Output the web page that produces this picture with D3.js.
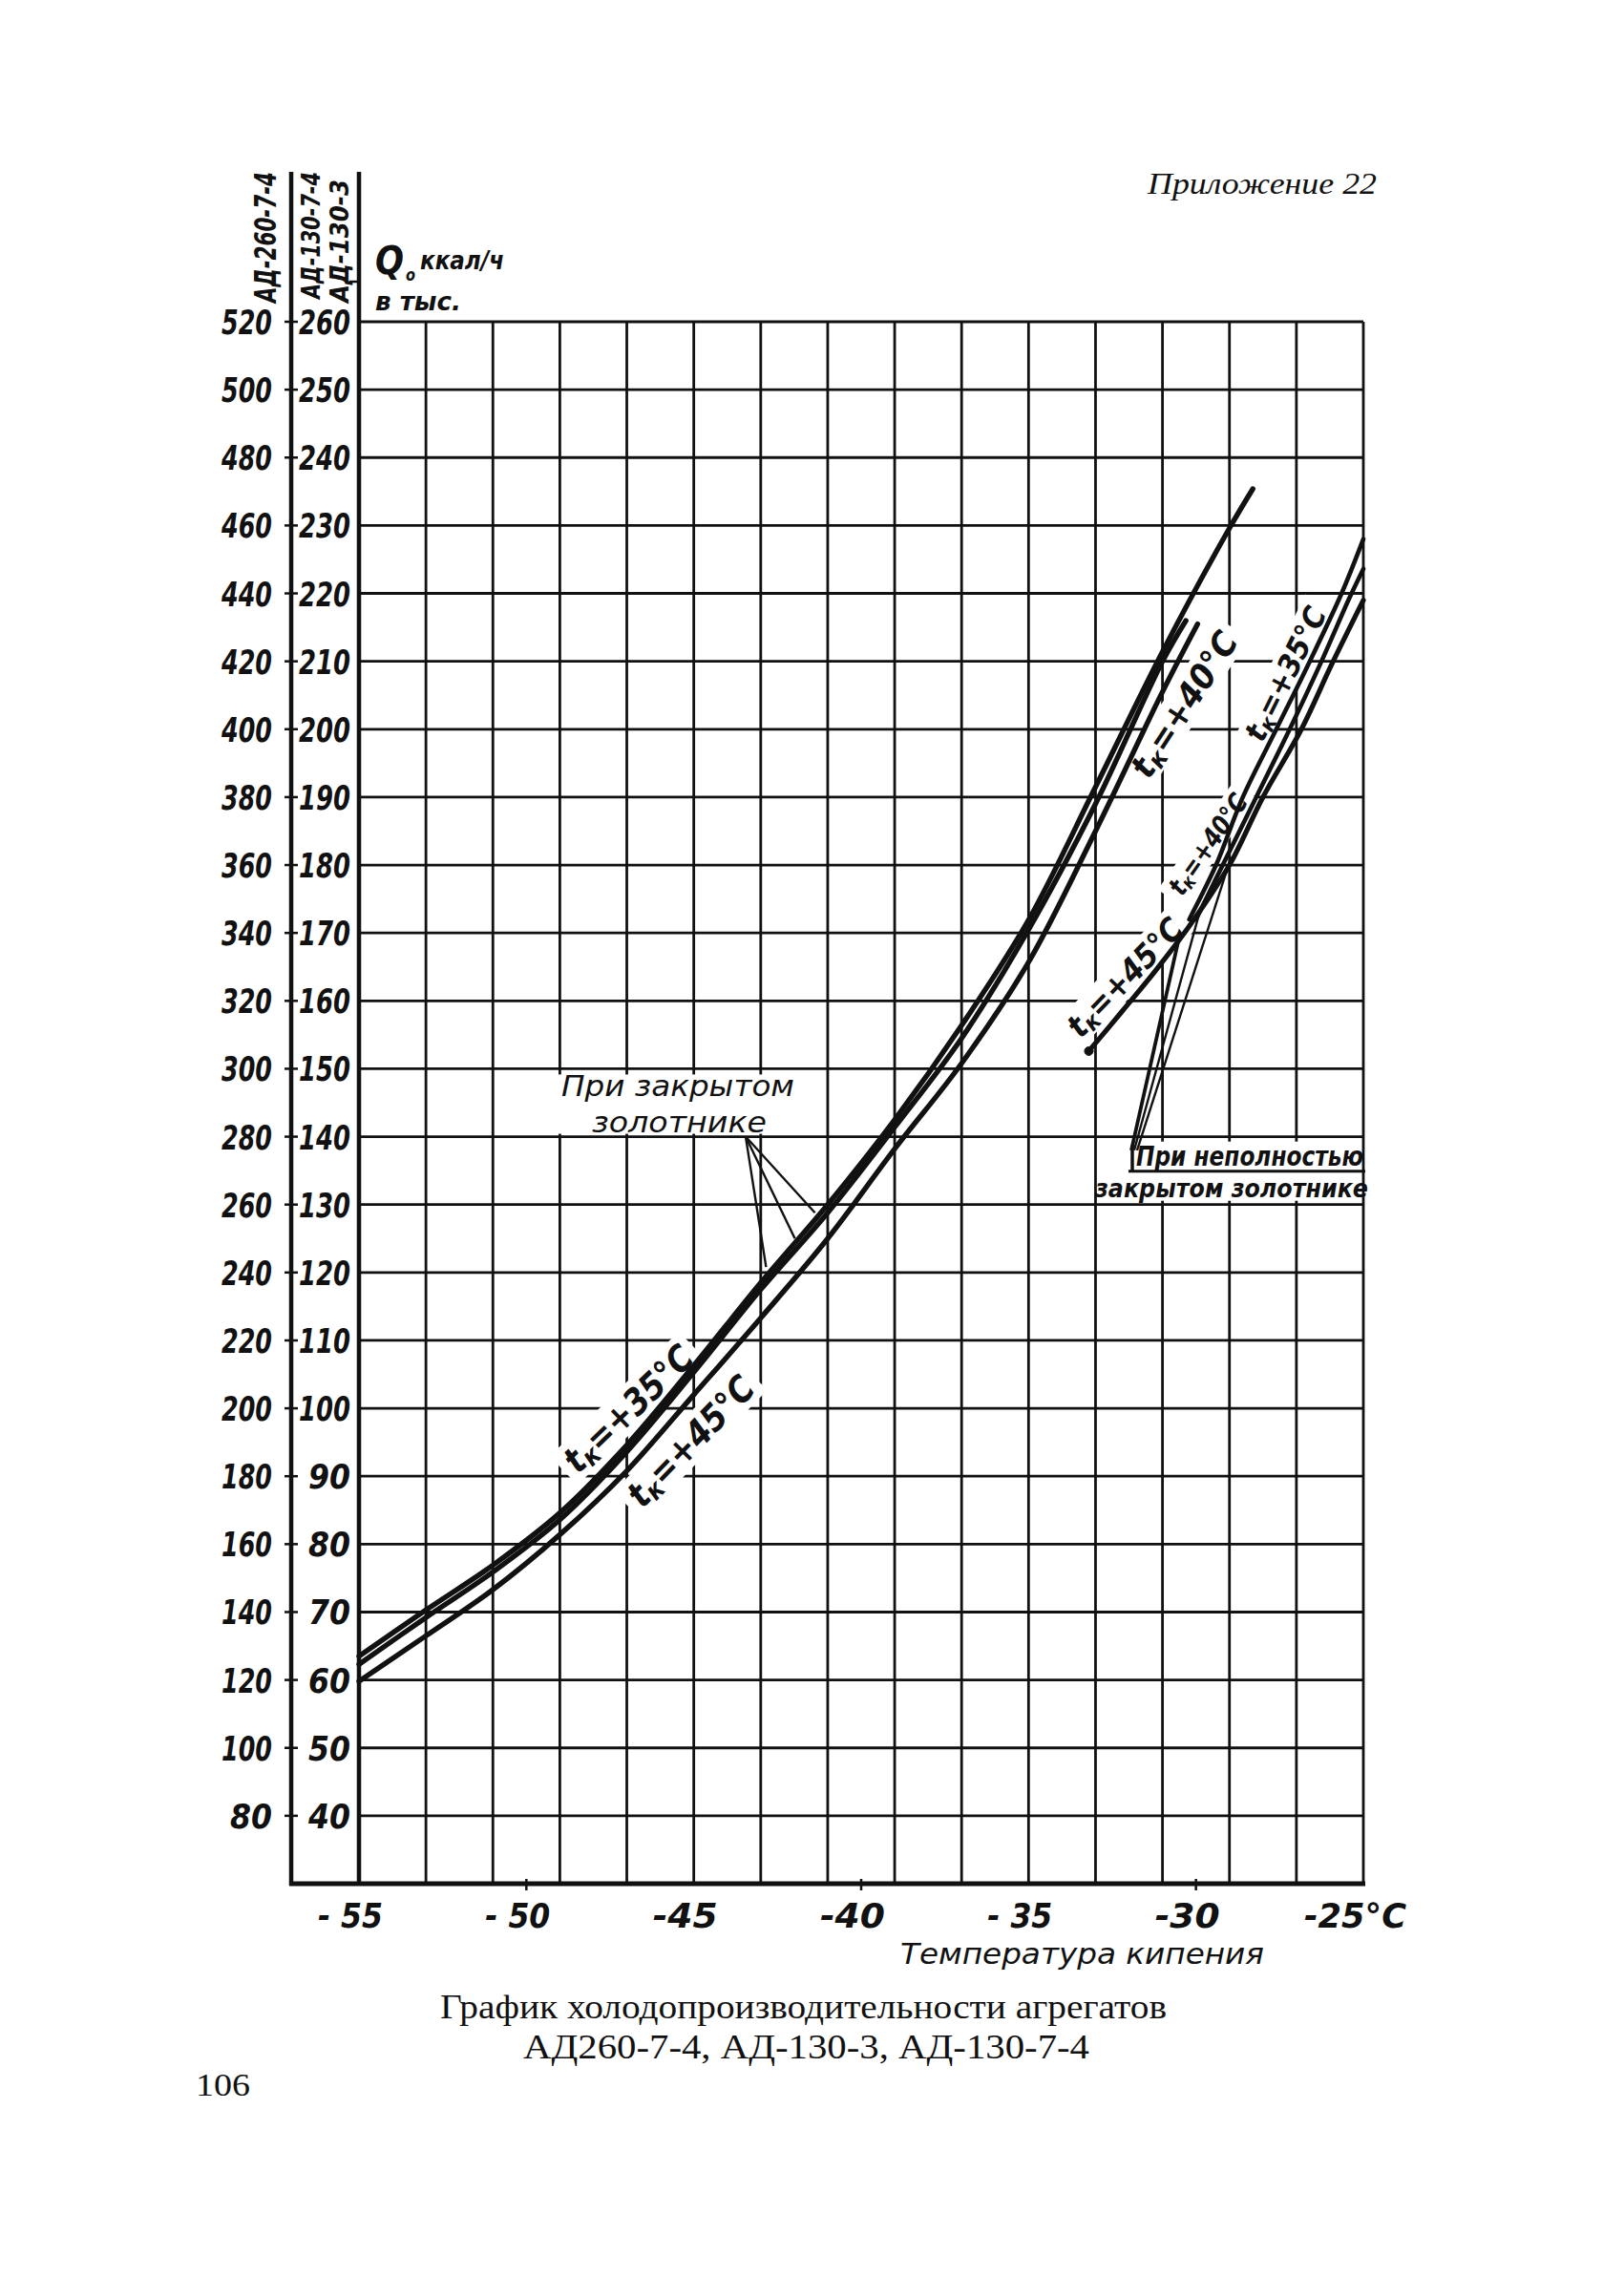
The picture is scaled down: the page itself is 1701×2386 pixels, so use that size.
<!DOCTYPE html>
<html><head><meta charset="utf-8">
<script src="https://cdn.jsdelivr.net/npm/d3@7"></script>
<style>
html,body{margin:0;padding:0;background:#fff;}
svg{display:block;}
</style></head><body>
<svg id="c" width="1701" height="2386"></svg>
<script>
// ---------------- DATA ----------------
// Boiling temperature grid (°C) and capacity grid (АД-130 scale, thousand kcal/h)
const gridTemps = [-55,-53,-51,-49,-47,-45,-43,-41,-39,-37,-35,-33,-31,-29,-27,-25];
const capGrid130 = [40,50,60,70,80,90,100,110,120,130,140,150,160,170,180,190,200,210,220,230,240,250,260];
const labels130 = ["40","50","60","70","80","90","100","110","120","130","140","150","160","170","180","190","200","210","220","230","240","250","260"];
const labels260 = ["80","100","120","140","160","180","200","220","240","260","280","300","320","340","360","380","400","420","440","460","480","500","520"];
const tempTickValues = [-55,-50,-45,-40,-35,-30,-25];
const tempTickLabels = ["- 55","- 50","-45","-40","- 35","-30","-25°C"];
const minorTempTicks = [-50,-40,-30];

// Curves with closed slide valve ("При закрытом золотнике"), [t, Q] in АД-130 units
const closed35 = [[-55,63.5],[-53,70.3],[-51,76.9],[-49,84.6],[-47,94.6],[-45,106.3],[-43,118.5],[-41,130],[-39,142.5],[-37,156.4],[-35,171.9],[-33,191.5],[-31,211.4],[-29,229.6],[-28.3,235.4]];
const closed40 = [[-55,62.3],[-53,69.2],[-51,75.9],[-49,83.6],[-47,93.6],[-45,105.3],[-43,117.5],[-41,128.8],[-39,141.4],[-37,154.5],[-35,170.5],[-33,189],[-31,210],[-30.3,216]];
const closed45 = [[-55,59.8],[-53,66.5],[-51,73.3],[-49,81.4],[-47,90.8],[-45,102],[-43,113.3],[-41,125],[-39,138.2],[-37,150.8],[-35,165.7],[-33,185],[-31,205.5],[-29.95,215.5]];

// Curves with partially closed slide valve ("При неполностью закрытом золотнике")
const part35 = [[-30.2,172],[-29.4,180],[-28.6,190],[-27.6,200],[-26.6,210],[-25.65,220],[-25.0,228]];
const part40 = [[-30.0,172],[-29.2,180],[-28.2,190],[-27.2,200],[-26.25,210],[-25.4,219.5],[-25.0,223.6]];
const part45 = [[-33.2,152.6],[-32.2,158.5],[-31.2,164.5],[-30.2,171],[-29.0,180],[-28.0,190],[-26.85,200],[-25.95,209.5],[-25.0,219]];

// Leader lines (apex -> points on curves)
const closedLeaderApex = [-43.45,140];
const closedLeaderEnds = [[-41.38,128.8],[-41.98,125.0],[-42.84,120.8]];
const partLeaderBase = [-31.93,138.0];
const partLeaderEnds = [[-30.5,169.4],[-29.85,173.8],[-28.95,181.2]];

// ---------------- LAYOUT ----------------
const W = 1701, H = 2386;
const ink = "#111";
const HAND = '"DejaVu Sans","Liberation Sans",sans-serif';
const SERIF = '"Liberation Serif","DejaVu Serif",serif';

const svg = d3.select("#c");
svg.append("rect").attr("width", W).attr("height", H).attr("fill", "#fff");

const x = d3.scaleLinear().domain([-55, -25]).range([376, 1428]);
const y = d3.scaleLinear().domain([30, 260]).range([1973, 337]);

const axisX = 305;      // outer left axis line
const headTop = 180;    // top of header columns

// ---- grid ----
const grid = svg.append("g");
grid.selectAll("line.v").data(gridTemps).join("line")
  .attr("x1", d => x(d)).attr("x2", d => x(d))
  .attr("y1", y(260)).attr("y2", y(30))
  .attr("stroke", ink).attr("stroke-width", 2.8);
grid.selectAll("line.h").data(capGrid130).join("line")
  .attr("x1", x(-55)).attr("x2", x(-25))
  .attr("y1", d => y(d)).attr("y2", d => y(d))
  .attr("stroke", ink).attr("stroke-width", 2.8);

// ---- label backgrounds (hide grid behind hand lettering) ----
const bg = svg.append("g");

const tkLabels = [
  {t:-46.96, v:100.0, ang:-44, len:172, fs:38, num:"35"},
  {t:-45.10, v:95.2,  ang:-46, len:173, fs:38, num:"45"},
  {t:-30.36, v:203.7, ang:-57, len:174, fs:36, num:"40"},
  {t:-27.34, v:208.2, ang:-63.6, len:152, fs:32, num:"35"},
  {t:-29.65, v:183.1, ang:-55, len:122, fs:28, num:"40"},
  {t:-32.13, v:163.5, ang:-46, len:158, fs:34, num:"45"}
];
tkLabels.forEach(L => {
  bg.append("rect")
    .attr("transform", `translate(${x(L.t)},${y(L.v)}) rotate(${L.ang})`)
    .attr("x", -L.len/2 - 8).attr("y", -L.fs*0.55)
    .attr("width", L.len + 16).attr("height", L.fs*1.1)
    .attr("fill", "#fff");
});
bg.append("rect").attr("x", 584).attr("y", y(150) + 6)
  .attr("width", 252).attr("height", y(140) - y(150) - 9).attr("fill", "#fff");
bg.append("rect").attr("x", 1152).attr("y", y(130) - 66)
  .attr("width", 272).attr("height", 62).attr("fill", "#fff");

// ---- axes frame ----
const frame = svg.append("g").attr("stroke", ink).attr("fill", "none");
frame.append("line").attr("x1", axisX).attr("x2", axisX).attr("y1", headTop).attr("y2", y(30) + 2).attr("stroke-width", 4.5);
frame.append("line").attr("x1", x(-55)).attr("x2", x(-55)).attr("y1", headTop).attr("y2", y(30) + 2).attr("stroke-width", 4.5);
frame.append("line").attr("x1", axisX - 2).attr("x2", x(-25) + 2).attr("y1", y(30)).attr("y2", y(30)).attr("stroke-width", 5);
frame.append("line").attr("x1", x(-55) - 10).attr("x2", x(-55)).attr("y1", 295).attr("y2", 295).attr("stroke-width", 2.5);
frame.selectAll("line.tk").data(capGrid130).join("line")
  .attr("x1", axisX - 7).attr("x2", axisX + 7)
  .attr("y1", d => y(d)).attr("y2", d => y(d)).attr("stroke-width", 2.5);
frame.selectAll("line.mt").data(minorTempTicks).join("line")
  .attr("x1", d => x(d)).attr("x2", d => x(d))
  .attr("y1", y(30) - 5).attr("y2", y(30) + 7).attr("stroke-width", 2.5);

// ---- curves ----
const line = d3.line().x(d => x(d[0])).y(d => y(d[1])).curve(d3.curveCatmullRom.alpha(0.5));
const curves = svg.append("g").attr("fill", "none").attr("stroke", ink)
  .attr("stroke-linecap", "round").attr("stroke-linejoin", "round");
[closed35, closed40, closed45].forEach(c => curves.append("path").attr("d", line(c)).attr("stroke-width", 5.4));
[part35, part40].forEach(c => curves.append("path").attr("d", line(c)).attr("stroke-width", 4.6));
curves.append("path").attr("d", line(part45)).attr("stroke-width", 5.2);
curves.append("circle").attr("cx", x(part45[0][0])).attr("cy", y(part45[0][1])).attr("r", 4.5).attr("fill", ink);

// ---- leaders ----
const lead = svg.append("g").attr("stroke", ink).attr("stroke-width", 2.4);
closedLeaderEnds.forEach(e => lead.append("line")
  .attr("x1", x(closedLeaderApex[0])).attr("y1", y(closedLeaderApex[1]))
  .attr("x2", x(e[0])).attr("y2", y(e[1])));
partLeaderEnds.forEach((e, i) => lead.append("line")
  .attr("x1", x(partLeaderBase[0]) + i*3).attr("y1", y(partLeaderBase[1]))
  .attr("x2", x(e[0])).attr("y2", y(e[1])).attr("stroke-width", i === 0 ? 3.8 : 2.4));

// ---- curve labels ----
const txt = svg.append("g").attr("fill", ink);
tkLabels.forEach(L => {
  const gg = txt.append("g").attr("transform", `translate(${x(L.t)},${y(L.v)}) rotate(${L.ang})`);
  const t = gg.append("text").attr("text-anchor", "middle").attr("y", L.fs*0.36)
    .attr("font-family", HAND).attr("font-style", "italic").attr("font-weight", "bold")
    .attr("font-size", L.fs).attr("textLength", L.len).attr("lengthAdjust", "spacingAndGlyphs");
  t.append("tspan").text("t");
  t.append("tspan").attr("font-size", L.fs*0.72).attr("dy", L.fs*0.12).text("к");
  t.append("tspan").attr("dy", -L.fs*0.12).text("=+" + L.num + "°C");
});

function handText(parent, str, px, py, fs, len, opts = {}) {
  const t = parent.append("text").attr("x", px).attr("y", py)
    .attr("font-family", opts.family || HAND).attr("font-style", opts.style || "italic")
    .attr("font-weight", opts.weight || "normal").attr("font-size", fs)
    .attr("text-anchor", opts.anchor || "start").text(str);
  if (len) t.attr("textLength", len).attr("lengthAdjust", "spacingAndGlyphs");
  return t;
}

// "При закрытом золотнике"
handText(txt, "При закрытом", 588, y(140) - 43, 31, 244);
handText(txt, "золотнике", 620, y(140) - 5, 31, 183);

// "При неполностью закрытом золотнике"
handText(txt, "При неполностью", 1190, y(130) - 41, 28, 238, {weight: "bold"});
txt.append("line").attr("x1", 1182).attr("x2", 1430).attr("y1", y(130) - 35).attr("y2", y(130) - 35)
  .attr("stroke", ink).attr("stroke-width", 3);
txt.append("line").attr("x1", 1186).attr("x2", 1186).attr("y1", y(130) - 62).attr("y2", y(130) - 35)
  .attr("stroke", ink).attr("stroke-width", 3.5);
handText(txt, "закрытом золотнике", 1147, y(130) - 8, 26, 286, {weight: "bold"});

// ---- left tick labels ----
txt.selectAll("text.l260").data(capGrid130).join("text")
  .attr("x", 285).attr("y", d => y(d) + 13)
  .attr("text-anchor", "end").attr("font-family", HAND).attr("font-style", "italic").attr("font-weight", "bold")
  .attr("font-size", 36).attr("lengthAdjust", "spacingAndGlyphs")
  .attr("textLength", (d, i) => labels260[i].length === 3 ? 53 : 44)
  .text((d, i) => labels260[i]);
txt.selectAll("text.l130").data(capGrid130).join("text")
  .attr("x", 367).attr("y", d => y(d) + 13)
  .attr("text-anchor", "end").attr("font-family", HAND).attr("font-style", "italic").attr("font-weight", "bold")
  .attr("font-size", 36).attr("lengthAdjust", "spacingAndGlyphs")
  .attr("textLength", (d, i) => labels130[i].length === 3 ? 54 : 44)
  .text((d, i) => labels130[i]);

// ---- bottom tick labels ----
txt.selectAll("text.bt").data(tempTickValues).join("text")
  .attr("x", (d, i) => i === tempTickValues.length - 1 ? x(d) - 62 : x(d) - 9)
  .attr("y", 2019)
  .attr("text-anchor", (d, i) => i === tempTickValues.length - 1 ? "start" : "middle")
  .attr("font-family", HAND).attr("font-style", "italic").attr("font-weight", "bold")
  .attr("font-size", 36).attr("lengthAdjust", "spacingAndGlyphs")
  .attr("textLength", (d, i) => i === tempTickValues.length - 1 ? 107 : 68)
  .text((d, i) => tempTickLabels[i]);

handText(txt, "Температура кипения", 943, 2057, 31, 381);

// ---- header column titles (vertical) ----
const headers = [
  {text: "АД-260-7-4", cx: 277, bottom: 317, len: 137, fs: 32},
  {text: "АД-130-7-4", cx: 326, bottom: 313, len: 133, fs: 26},
  {text: "АД-130-3",   cx: 356, bottom: 317, len: 129, fs: 26}
];
headers.forEach(hd => {
  txt.append("text").attr("transform", `translate(${hd.cx + hd.fs*0.36},${hd.bottom}) rotate(-90)`)
    .attr("font-family", HAND).attr("font-style", "italic").attr("font-weight", "bold")
    .attr("font-size", hd.fs).attr("textLength", hd.len).attr("lengthAdjust", "spacingAndGlyphs")
    .text(hd.text);
});

// Q0 unit label
handText(txt, "Q", 393, 287, 40, 30, {weight: "bold"});
handText(txt, "о", 425, 294, 18, 10, {weight: "bold"});
handText(txt, "ккал/ч", 440, 282, 26, 88, {weight: "bold"});
handText(txt, "в тыс.", 393, 325, 26, 90, {weight: "bold"});

// ---- page texts ----
handText(txt, "Приложение 22", 1202, 203, 32, 240, {family: SERIF});
handText(txt, "График холодопроизводительности агрегатов", 461, 2114, 36, 761, {family: SERIF, style: "normal"});
handText(txt, "АД260-7-4, АД-130-3, АД-130-7-4", 548, 2156, 36, 593, {family: SERIF, style: "normal"});
handText(txt, "106", 205, 2195, 34, 57, {family: SERIF, style: "normal"});
</script>
</body></html>
